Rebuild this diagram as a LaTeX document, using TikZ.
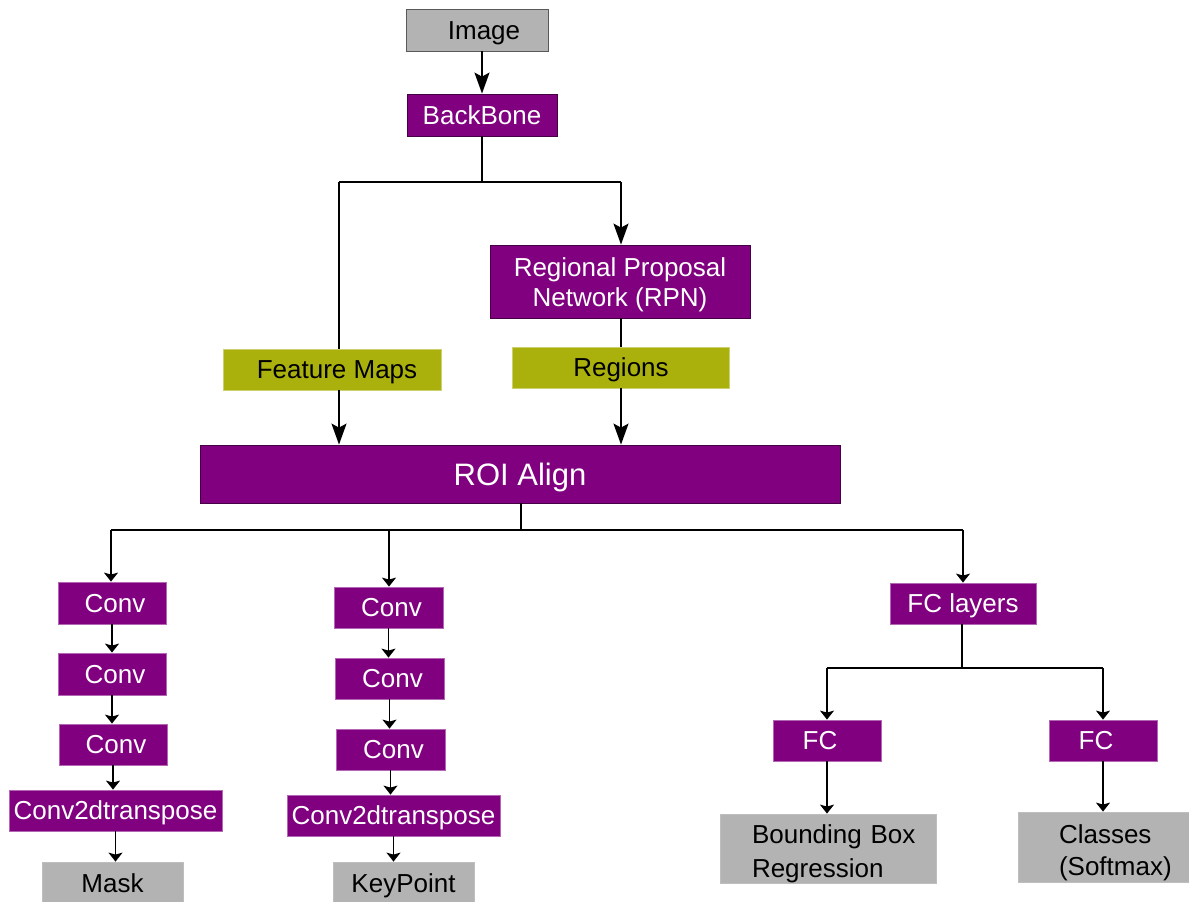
\documentclass[tikz,border=0pt]{standalone}
\usepackage{fontspec}
\setmainfont{Liberation Sans}
\usetikzlibrary{arrows.meta}
\definecolor{purp}{HTML}{800080}
\definecolor{gboxc}{HTML}{B3B3B3}
\definecolor{limeol}{HTML}{AAB10D}
\begin{document}
\begin{tikzpicture}[x=1pt,y=-1pt,
  box/.style={rectangle, inner sep=0pt, font=\fontsize{26}{31}\selectfont},
  one/.style={text height=18pt, text depth=0pt},
  pbox/.style={box, fill=purp, draw=purp!55!black, line width=0.8pt, text=white},
  pboxl/.style={box, fill=purp, draw=purp!60!white, line width=0.8pt, text=white},
  gbox/.style={box, fill=gboxc, draw=gboxc!85!white, line width=0.8pt, text=black},
  obox/.style={box, fill=limeol, draw=limeol!60!white, line width=0.8pt, text=black},
  conn/.style={line width=1.6pt},
  big/.style={conn, -{Stealth[length=21pt,width=15pt,inset=4pt]}},
  sml/.style={conn, -{Stealth[length=9pt,width=14pt,inset=2pt]}},
]
\useasboundingbox (0,0) rectangle (1189,902);

% top part
\node[gbox, one, draw=gboxc!50!black, minimum width=142pt, minimum height=42pt] (img) at (477,30) {\hspace*{14pt}Image};
\node[pbox, one, minimum width=150pt, minimum height=42pt] (bb) at (482,115) {BackBone};
\node[pbox, align=center, font=\fontsize{26}{30}\selectfont, minimum width=260pt, minimum height=73pt] (rpn) at (620,281.5) {\rule{0pt}{25pt}Regional Proposal\\Network (RPN)};
\node[obox, one, minimum width=218pt, minimum height=41pt] (fm) at (332,369.5) {\hspace*{10pt}Feature Maps};
\node[obox, one, minimum width=217pt, minimum height=41pt] (reg) at (621,367.5) {Regions};
\node[pbox, font=\fontsize{31}{36}\selectfont, text height=22pt, text depth=0pt, minimum width=640pt, minimum height=58pt] (roi) at (520,474) {ROI Align};

% mask branch
\node[pboxl, one, minimum width=108pt, minimum height=42pt] (c1) at (112,603) {\hspace*{6pt}Conv};
\node[pboxl, one, minimum width=108pt, minimum height=42pt] (c2) at (112,674) {\hspace*{6pt}Conv};
\node[pboxl, one, minimum width=108pt, minimum height=41pt] (c3) at (113,744.5) {\hspace*{6pt}Conv};
\node[pboxl, one, minimum width=213pt, minimum height=41pt] (ct1) at (115.5,810.5) {Conv2dtranspose};
\node[gbox, one, minimum width=141pt, minimum height=42pt] (mask) at (112.5,883) {Mask};

% keypoint branch
\node[pboxl, one, minimum width=109pt, minimum height=41pt] (k1) at (388.5,607.5) {\hspace*{6pt}Conv};
\node[pboxl, one, minimum width=109pt, minimum height=41pt] (k2) at (389.5,678.5) {\hspace*{6pt}Conv};
\node[pboxl, one, minimum width=109pt, minimum height=41pt] (k3) at (390.5,749.5) {\hspace*{6pt}Conv};
\node[pboxl, one, minimum width=213pt, minimum height=41pt] (ct2) at (393.5,815.5) {Conv2dtranspose};
\node[gbox, one, minimum width=141pt, minimum height=42pt] (kp) at (403.5,883) {KeyPoint};

% FC branch
\node[pboxl, one, minimum width=146pt, minimum height=41pt] (fcl) at (963,603.5) {FC layers};
\node[pboxl, one, minimum width=108pt, minimum height=41pt] (fc1) at (827,740.5) {\hspace*{-14pt}FC};
\node[pboxl, one, minimum width=108pt, minimum height=41pt] (fc2) at (1103,740.5) {\hspace*{-14pt}FC};
\node[gbox, align=left, text width=216pt, font=\fontsize{26}{34}\selectfont, minimum width=216pt, minimum height=69pt] (bbr) at (828,848.5) {\hspace*{32pt}\rule{0pt}{29pt}Bounding Box\\\hspace*{32pt}Regression};
\node[gbox, align=left, text width=177pt, font=\fontsize{26}{32}\selectfont, minimum width=177pt, minimum height=70pt] (cls) at (1106.5,847) {\hspace*{41pt}\rule{0pt}{31pt}Classes\\\hspace*{41pt}(Softmax)};

% junction coordinates
\coordinate (jt) at (480,182);
\coordinate (fmx) at (339,182);
\coordinate (rpx) at (621,182);
\coordinate (jr) at (521,530);
\coordinate (ja) at (111,530);
\coordinate (jb) at (389,530);
\coordinate (jc) at (963,530);
\coordinate (jf) at (962,668);
\coordinate (jfl) at (827,668);
\coordinate (jfr) at (1103,668);

% connectors top
\draw[big] (bb.north |- img.south) -- (bb.north);
\draw[conn] (bb.south) -- (bb.south |- jt);
\draw[conn] (fmx) -- (rpx);
\draw[big] (rpx) -- (rpx |- rpn.north);
\draw[conn] (fmx) -- (fmx |- fm.north);
\draw[conn] (rpx |- rpn.south) -- (reg.north);
\draw[big] (fmx |- fm.south) -- (fmx |- roi.north);
\draw[big] (reg.south) -- (reg.south |- roi.north);

% ROI split
\draw[conn] (roi.south -| jr) -- (jr);
\draw[conn] (ja) -- (jc);
\draw[sml] (ja) -- (ja |- c1.north);
\draw[sml] (jb) -- (jb |- k1.north);
\draw[sml] (jc) -- (jc |- fcl.north);

% mask chain
\draw[sml] (c1.south) -- (c1.south |- c2.north);
\draw[sml] (c2.south) -- (c2.south |- c3.north);
\draw[sml] (c3.south) -- (c3.south |- ct1.north);
\draw[sml] (ct1.south) -- (ct1.south |- mask.north);

% keypoint chain
\draw[sml] (k1.south) -- (k1.south |- k2.north);
\draw[sml] (k2.south) -- (k2.south |- k3.north);
\draw[sml] (k3.south) -- (k3.south |- ct2.north);
\draw[sml] (ct2.south) -- (ct2.south |- kp.north);

% FC split
\draw[conn] (fcl.south -| jf) -- (jf);
\draw[conn] (jfl) -- (jfr);
\draw[sml] (jfl) -- (jfl |- fc1.north);
\draw[sml] (jfr) -- (jfr |- fc2.north);
\draw[sml] (fc1.south) -- (fc1.south |- bbr.north);
\draw[sml] (fc2.south) -- (fc2.south |- cls.north);
\end{tikzpicture}
\end{document}
